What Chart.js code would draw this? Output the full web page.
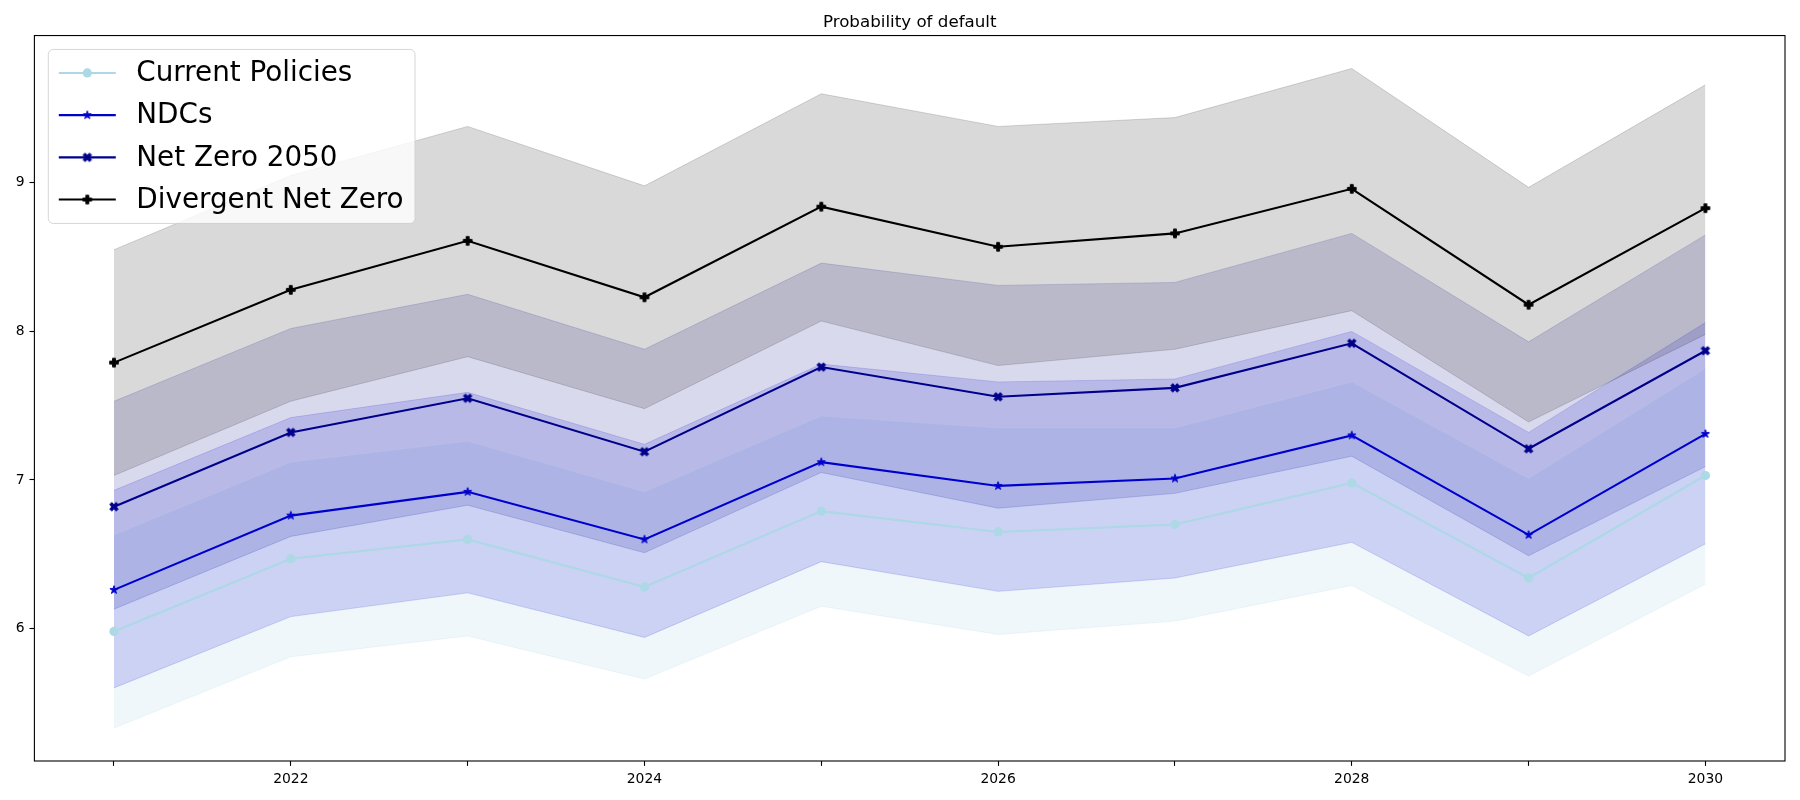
<!DOCTYPE html>
<html>
<head>
<meta charset="utf-8">
<script src="https://cdn.jsdelivr.net/npm/chart.js@4.4.0/dist/chart.umd.min.js"></script>
<style>
  html, body { margin: 0; padding: 0; background: #fff; }
  #wrap { width: 1800px; height: 800px; }
</style>
</head>
<body>
<div id="wrap"><canvas id="chart" width="1800" height="800"></canvas></div>
<script>
// data
const years = [2021, 2022, 2023, 2024, 2025, 2026, 2027, 2028, 2029, 2030];

const currentPolicies      = [5.98, 6.47, 6.60, 6.28, 6.79, 6.65, 6.70, 6.98, 6.34, 7.03];
const currentPoliciesLow   = [5.33, 5.81, 5.95, 5.66, 6.15, 5.96, 6.05, 6.29, 5.68, 6.30];
const currentPoliciesHigh  = [6.63, 7.12, 7.26, 6.92, 7.43, 7.35, 7.35, 7.66, 7.01, 7.75];

const ndcs      = [6.26, 6.76, 6.92, 6.60, 7.12, 6.96, 7.01, 7.30, 6.63, 7.31];
const ndcsLow   = [5.60, 6.08, 6.24, 5.94, 6.45, 6.25, 6.34, 6.58, 5.95, 6.57];
const ndcsHigh  = [6.93, 7.42, 7.59, 7.24, 7.78, 7.66, 7.68, 8.00, 7.32, 8.06];

const netZero      = [6.82, 7.32, 7.55, 7.19, 7.76, 7.56, 7.62, 7.92, 7.21, 7.87];
const netZeroLow   = [6.13, 6.62, 6.83, 6.51, 7.05, 6.81, 6.91, 7.16, 6.49, 7.09];
const netZeroHigh  = [7.53, 8.02, 8.25, 7.88, 8.46, 8.31, 8.33, 8.66, 7.93, 8.65];

const divergent      = [7.79, 8.28, 8.61, 8.23, 8.84, 8.57, 8.66, 8.96, 8.18, 8.83];
const divergentLow   = [7.03, 7.53, 7.83, 7.48, 8.07, 7.77, 7.88, 8.14, 7.39, 7.98];
const divergentHigh  = [8.55, 9.05, 9.38, 8.98, 9.60, 9.38, 9.44, 9.77, 8.97, 9.66];

const yTicks = [6, 7, 8, 9];
const xLabelYears = [2022, 2024, 2026, 2028, 2030];

const FONT = '"DejaVu Sans", "Liberation Sans", sans-serif';

// filled matplotlib-like markers drawn on small canvases
function makeMarker(kind, color) {
    const s = 12;
    const c = document.createElement('canvas');
    c.width = s; c.height = s;
    const g = c.getContext('2d');
    g.translate(s / 2, s / 2);
    g.fillStyle = color;
    g.strokeStyle = color;
    g.lineWidth = 1;
    const r = 4.3;
    let pts = [];
    if (kind === 'star') {
        for (let i = 0; i < 10; i++) {
            const rad = i % 2 === 0 ? r : r * 0.382;
            const a = -Math.PI / 2 + i * Math.PI / 5;
            pts.push([rad * Math.cos(a), rad * Math.sin(a)]);
        }
    } else if (kind === 'plus') {
        pts = [[-1, -3], [1, -3], [1, -1], [3, -1], [3, 1], [1, 1], [1, 3], [-1, 3], [-1, 1], [-3, 1], [-3, -1], [-1, -1]]
            .map(p => [p[0] / 6 * 2 * r, p[1] / 6 * 2 * r]);
    } else if (kind === 'x') {
        pts = [[-1, -2], [0, -1], [1, -2], [2, -1], [1, 0], [2, 1], [1, 2], [0, 1], [-1, 2], [-2, 1], [-1, 0], [-2, -1]]
            .map(p => [p[0] / 4 * 2 * r, p[1] / 4 * 2 * r]);
    }
    g.beginPath();
    pts.forEach((p, i) => i ? g.lineTo(p[0], p[1]) : g.moveTo(p[0], p[1]));
    g.closePath();
    g.fill();
    g.stroke();
    return c;
}

const series = [
    { label: 'Current Policies', color: '#add8e6', fill: 'rgba(173,216,230,0.2)', marker: 'circle',
      mid: currentPolicies, low: currentPoliciesLow, high: currentPoliciesHigh },
    { label: 'NDCs', color: '#0000cd', fill: 'rgba(0,0,205,0.15)', marker: makeMarker('star', '#0000cd'),
      mid: ndcs, low: ndcsLow, high: ndcsHigh },
    { label: 'Net Zero 2050', color: '#00008b', fill: 'rgba(0,0,139,0.15)', marker: makeMarker('x', '#00008b'),
      mid: netZero, low: netZeroLow, high: netZeroHigh },
    { label: 'Divergent Net Zero', color: '#000000', fill: 'rgba(0,0,0,0.15)', marker: makeMarker('plus', '#000000'),
      mid: divergent, low: divergentLow, high: divergentHigh }
];

const pts = arr => arr.map((v, i) => ({ x: years[i], y: v }));

const datasets = [];
series.forEach((s, k) => {
    const idx = datasets.length;
    datasets.push({
        data: pts(s.high), borderColor: s.fill, backgroundColor: s.fill, borderWidth: 1,
        pointRadius: 0, fill: { target: idx + 1 }, order: 10 - k
    });
    datasets.push({
        data: pts(s.low), borderColor: s.fill, borderWidth: 1, pointRadius: 0, fill: false, order: 10 - k
    });
});
series.forEach((s, k) => {
    datasets.push({
        label: s.label, data: pts(s.mid), borderColor: s.color, backgroundColor: s.color,
        borderWidth: 2.08, fill: false, pointStyle: s.marker, pointRadius: 4.6,
        pointBorderWidth: 0, order: 3 - k
    });
});

const dataMin = Math.min(...currentPoliciesLow);
const dataMax = Math.max(...divergentHigh);
const yPad = (dataMax - dataMin) * 0.05;
const xPad = (years[years.length - 1] - years[0]) * 0.05;

// box around the plot and legend in the upper left corner
const framePlugin = {
    id: 'frame',
    afterDatasetsDraw(chart) {
        const { ctx, chartArea: a } = chart;
        ctx.save();
        ctx.strokeStyle = '#000';
        ctx.lineWidth = 1.1;
        ctx.strokeRect(a.left, a.top, a.right - a.left, a.bottom - a.top);
        ctx.restore();
    },
    afterDraw(chart) {
        const { ctx, chartArea: a } = chart;
        const fs = 27.8;
        const bx = a.left + 13.9, by = a.top + 13.9, bw = 366.7, bh = 174;
        ctx.save();
        ctx.beginPath();
        ctx.roundRect(bx, by, bw, bh, 5);
        ctx.fillStyle = 'rgba(255,255,255,0.8)';
        ctx.fill();
        ctx.strokeStyle = 'rgba(204,204,204,0.8)';
        ctx.lineWidth = 1;
        ctx.stroke();
        series.forEach((s, i) => {
            const y = by + 23.5 + i * 42.2;
            const x0 = bx + 10.5, x1 = x0 + 57;
            ctx.beginPath();
            ctx.moveTo(x0, y);
            ctx.lineTo(x1, y);
            ctx.strokeStyle = s.color;
            ctx.lineWidth = 2.08;
            ctx.stroke();
            const cx = (x0 + x1) / 2;
            if (s.marker === 'circle') {
                ctx.beginPath();
                ctx.arc(cx, y, 4.6, 0, Math.PI * 2);
                ctx.fillStyle = s.color;
                ctx.fill();
            } else {
                ctx.drawImage(s.marker, cx - s.marker.width / 2, y - s.marker.height / 2);
            }
            ctx.fillStyle = '#000';
            ctx.font = fs + 'px ' + FONT;
            ctx.textBaseline = 'middle';
            ctx.textAlign = 'left';
            ctx.fillText(s.label, bx + 88, y + 1);
        });
        ctx.restore();
    }
};

new Chart(document.getElementById('chart'), {
    type: 'line',
    data: { datasets },
    options: {
        responsive: false,
        animation: false,
        layout: { padding: { left: 0, right: 15, top: 0, bottom: 0 } },
        plugins: {
            legend: { display: false },
            tooltip: { enabled: false },
            filler: { drawTime: 'beforeDatasetsDraw' },
            title: {
                display: true,
                text: 'Probability of default',
                fullSize: false,
                color: '#000',
                font: { family: FONT, size: 16.7, weight: 'normal' },
                padding: { top: 12.5, bottom: 3 }
            }
        },
        scales: {
            x: {
                type: 'linear',
                min: years[0] - xPad,
                max: years[years.length - 1] + xPad,
                border: { display: false },
                grid: { drawOnChartArea: false, drawTicks: true, tickLength: 4.9, tickColor: '#000', tickWidth: 1.1 },
                ticks: {
                    autoSkip: false, maxRotation: 0, padding: 4.9, color: '#000',
                    font: { family: FONT, size: 13.9 },
                    callback: v => xLabelYears.includes(v) ? String(v) : ''
                },
                afterBuildTicks: sc => { sc.ticks = years.map(v => ({ value: v })); },
                afterFit: sc => { sc.height = 39; }
            },
            y: {
                type: 'linear',
                min: dataMin - yPad,
                max: dataMax + yPad,
                border: { display: false },
                grid: { drawOnChartArea: false, drawTicks: true, tickLength: 4.9, tickColor: '#000', tickWidth: 1.1 },
                ticks: {
                    padding: 4.9, color: '#000',
                    font: { family: FONT, size: 13.9 },
                    callback: v => String(v)
                },
                afterBuildTicks: sc => { sc.ticks = yTicks.map(v => ({ value: v })); },
                afterFit: sc => { sc.width = 34.4; }
            }
        }
    },
    plugins: [framePlugin]
});
</script>
</body>
</html>
